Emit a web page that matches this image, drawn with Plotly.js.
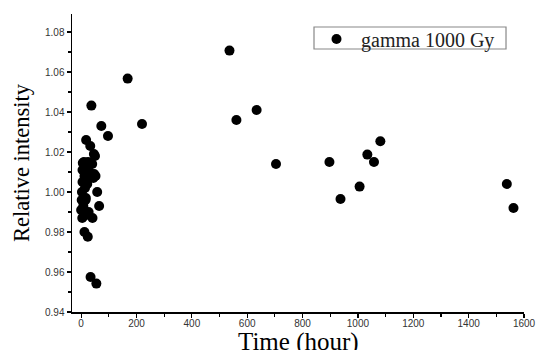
<!DOCTYPE html>
<html><head><meta charset="utf-8">
<script src="https://cdn.plot.ly/plotly-3.0.1.min.js"></script>
<style>html,body{margin:0;padding:0;background:#fff}#chart{width:537px;height:350px}</style>
</head><body><div id="chart"></div>
<script>
const timeHours = [0,2,3,4,5,5,6,8,10,11,12,12,14,16,17,17,18,20,22,24,25,27,30,33,34,37,40,41,44,46,47,50,52,58,55,65,73,97,168,
  220,536,561,634,704,897,937,1006,1034,1058,1081,1538,1562];
const relIntensity = [0.991,0.996,1.000,0.987,1.005,1.011,1.0145,0.993,1.015,0.988,0.980,1.008,1.002,0.996,0.997,1.008,1.026,1.012,1.004,0.9776,1.015,0.990,1.010,1.023,0.9575,1.0432,1.014,0.987,1.007,1.019,1.009,1.018,1.008,1.000,0.9542,0.993,1.033,1.028,1.0567,
  1.034,1.0707,1.036,1.041,1.014,1.015,0.9965,1.0027,1.0187,1.015,1.0254,1.004,0.992];
const seriesName = 'gamma 1000 Gy';
const xTitle = 'Time (hour)';

const trace = {
  x: timeHours, y: relIntensity, type: 'scatter', mode: 'markers', name: seriesName,
  marker: {color: '#000', size: 10, symbol: 'circle'}, showlegend: true
};
const layout = {
  width: 537, height: 350,
  margin: {l: 72, r: 13, t: 14, b: 38, autoexpand: false},
  paper_bgcolor: '#fff', plot_bgcolor: '#fff',
  xaxis: {
    range: [-33, 1600], tickvals: [0,200,400,600,800,1000,1200,1400,1600],
    ticks: 'outside', ticklen: 4, tickwidth: 1.2, tickcolor: '#000',
    minor: {dtick: 100, tick0: 0, ticks: 'outside', ticklen: 3, tickcolor: '#000'},
    showline: true, linecolor: '#000', linewidth: 1.5, showgrid: false, zeroline: false,
    tickfont: {family: 'Liberation Sans, Arial', size: 10, color: '#333'},
    ticklabelstandoff: -3,
    automargin: false
  },
  yaxis: {
    range: [0.94, 1.089], tickvals: [0.94,0.96,0.98,1.00,1.02,1.04,1.06,1.08],
    ticktext: ['0.94','0.96','0.98','1.00','1.02','1.04','1.06','1.08'],
    ticks: 'outside', ticklen: 4, tickwidth: 1.2, tickcolor: '#000',
    minor: {dtick: 0.01, tick0: 0.94, ticks: 'outside', ticklen: 3, tickcolor: '#000'},
    showline: true, linecolor: '#000', linewidth: 1.5, showgrid: false, zeroline: false,
    tickfont: {family: 'Liberation Sans, Arial', size: 10, color: '#333'},
    automargin: false,
    title: {text: 'Relative intensity', font: {family: 'Liberation Serif, Times New Roman', size: 22.5, color: '#000'}, standoff: 9}
  },
  annotations: [{
    text: xTitle, xref: 'paper', yref: 'paper', x: 0.5, y: 0,
    xanchor: 'center', yanchor: 'top', yshift: -14, showarrow: false,
    font: {family: 'Liberation Serif, Times New Roman', size: 25, color: '#000'}
  }],
  shapes: [{
    type: 'rect', xref: 'paper', yref: 'paper',
    x0: 0.5354, x1: 0.9602, y0: 0.8826, y1: 0.9564,
    line: {color: '#888', width: 1.2}, fillcolor: 'rgba(0,0,0,0)', layer: 'above'
  }],
  showlegend: true,
  legend: {
    x: 0.5310, y: 0.916, xanchor: 'left', yanchor: 'middle',
    borderwidth: 0, bgcolor: 'rgba(0,0,0,0)',
    font: {family: 'Liberation Serif, Times New Roman', size: 20, color: '#222'},
    orientation: 'h', itemwidth: 39, tracegroupgap: 0
  }
};
Plotly.newPlot('chart', [trace], layout, {staticPlot: true, displayModeBar: false});
</script></body></html>
